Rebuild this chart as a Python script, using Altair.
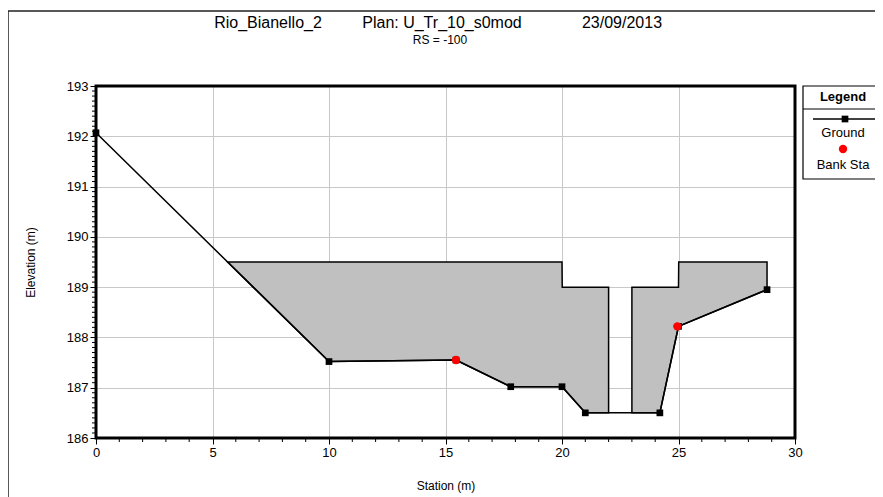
import altair as alt
import pandas as pd

# Ground profile
ground_station = [0.0, 10.0, 15.45, 17.8, 20.0, 21.0, 24.2, 25.0, 28.8]
ground_elev = [192.07, 187.52, 187.55, 187.02, 187.02, 186.5, 186.5, 188.22, 188.95]

# Bank stations
bank_station = [15.45, 24.95]
bank_elev = [187.55, 188.22]

# Deck / obstruction polygons (station, top, bottom)
left_station = [5.65, 10.0, 15.45, 17.8, 20.0, 20.01, 21.0, 22.0]
left_top = [189.5, 189.5, 189.5, 189.5, 189.5, 189.0, 189.0, 189.0]
left_bottom = [189.5, 187.52, 187.55, 187.02, 187.02, 187.02, 186.5, 186.5]

right_station = [23.0, 24.2, 25.0, 25.01, 28.8]
right_top = [189.0, 189.0, 189.0, 189.5, 189.5]
right_bottom = [186.5, 186.5, 188.22, 188.22, 188.95]

# Axis ticks
x_major = [0, 5, 10, 15, 20, 25, 30]
x_minor = [i for i in range(31) if i % 5 != 0]
y_major = [186, 187, 188, 189, 190, 191, 192, 193]
y_minor = [round(186 + i * 0.1, 1) for i in range(71) if i % 10 != 0]

FONT = "Liberation Sans"
W, H = 699, 352

ground = pd.DataFrame({"station": ground_station, "elev": ground_elev,
                       "idx": list(range(len(ground_station)))})
bank = pd.DataFrame({"station": bank_station, "elev": bank_elev})
deck = pd.concat([
    pd.DataFrame({"station": left_station, "top": left_top, "bottom": left_bottom, "grp": "L"}),
    pd.DataFrame({"station": right_station, "top": right_top, "bottom": right_bottom, "grp": "R"}),
])
one = pd.DataFrame({"a": [0]})
xmin_df = pd.DataFrame({"station": x_minor})
ymin_df = pd.DataFrame({"elev": y_minor})

xscale = alt.Scale(domain=[0, 30], nice=False, zero=False)
yscale = alt.Scale(domain=[186, 193], nice=False, zero=False)

xaxis = alt.Axis(values=x_major, title="Station (m)", grid=True, tickSize=6,
                 format="d", labelOverlap=False, labelFlush=False, labelPadding=2,
                 titlePadding=21)
yaxis = alt.Axis(values=y_major, title="Elevation (m)", grid=True, tickSize=6,
                 format="d", labelOverlap=False, labelFlush=False, labelPadding=2,
                 titlePadding=29)

X = alt.X("station:Q", scale=xscale, axis=xaxis)

frame = alt.Chart(one).mark_rect(fillOpacity=0, stroke="#222", strokeWidth=1.5).encode(
    x=alt.value(-88), x2=alt.value(820), y=alt.value(-75), y2=alt.value(460))

area = alt.Chart(deck).mark_area(color="#c0c0c0", stroke="black", strokeWidth=1.5,
                                 interpolate="linear", fillOpacity=1, strokeOpacity=1).encode(
    x=X, y=alt.Y("top:Q", scale=yscale, axis=yaxis), y2="bottom:Q", detail="grp:N")

border = alt.Chart(one).mark_rect(fillOpacity=0, stroke="black", strokeWidth=3).encode(
    x=alt.value(0), x2=alt.value(W), y=alt.value(0), y2=alt.value(H))

gline = alt.Chart(ground).mark_line(color="black", strokeWidth=1.5).encode(
    x=X, y=alt.Y("elev:Q", scale=yscale, axis=yaxis), order="idx:Q")
gpts = alt.Chart(ground).mark_point(shape="square", filled=True, color="black",
                                    size=45, opacity=1).encode(
    x=X, y=alt.Y("elev:Q", scale=yscale, axis=yaxis))
bpts = alt.Chart(bank).mark_point(shape="circle", filled=True, color="red",
                                  size=70, opacity=1).encode(
    x=X, y=alt.Y("elev:Q", scale=yscale, axis=yaxis))

# Minor ticks
xminor = alt.Chart(xmin_df).mark_rule(color="black", strokeWidth=1).encode(
    x=X, y=alt.value(H), y2=alt.value(H + 4))
yminor = alt.Chart(ymin_df).mark_rule(color="black", strokeWidth=1).encode(
    y=alt.Y("elev:Q", scale=yscale, axis=yaxis), x=alt.value(-4), x2=alt.value(0))

# Titles
def txt(s, x, y, size, weight="normal"):
    return alt.Chart(one).mark_text(text=s, font=FONT, fontSize=size, fontWeight=weight,
                                    baseline="middle", align="center", color="black").encode(
        x=alt.value(x), y=alt.value(y))

t1a = txt("Rio_Bianello_2", 172, -63, 16)
t1b = txt("Plan: U_Tr_10_s0mod", 346, -63, 16)
t1c = txt("23/09/2013", 526, -63, 16)
t2 = txt("RS = -100", 344, -46, 12)

# Legend box
lbox = alt.Chart(one).mark_rect(fill="white", stroke="black", strokeWidth=1.2).encode(
    x=alt.value(707), x2=alt.value(786), y=alt.value(0), y2=alt.value(93))
lsep = alt.Chart(one).mark_rule(color="black", strokeWidth=1).encode(
    x=alt.value(707), x2=alt.value(786), y=alt.value(23))
ltitle = txt("Legend", 747, 11, 13, "bold")
lline = alt.Chart(one).mark_rule(color="black", strokeWidth=1.5).encode(
    x=alt.value(717), x2=alt.value(781), y=alt.value(33))
lsq = alt.Chart(one).mark_point(shape="square", filled=True, color="black", size=45,
                                opacity=1).encode(x=alt.value(749), y=alt.value(33))
lg = txt("Ground", 747, 47, 13)
ldot = alt.Chart(one).mark_point(shape="circle", filled=True, color="red", size=70,
                                 opacity=1).encode(x=alt.value(747), y=alt.value(63))
lb = txt("Bank Sta", 747, 79, 13)

chart = alt.layer(frame, area, border, gline, gpts, bpts, xminor, yminor,
                  t1a, t1b, t1c, t2,
                  lbox, lsep, ltitle, lline, lsq, lg, ldot, lb).properties(
    width=W, height=H,
    padding={"left": 88, "top": 78, "right": 80, "bottom": 59},
    autosize="none",
).configure(background="white").configure_view(
    stroke=None).configure_axis(
    domain=False, tickColor="black", tickWidth=1, gridColor="#c8c8c8", gridWidth=1,
    labelFont=FONT, labelFontSize=13, labelColor="black",
    titleFont=FONT, titleFontSize=12, titleFontWeight="normal", titleColor="black",
)

chart.save("out.html", embed_options={"renderer": "svg", "actions": False})
